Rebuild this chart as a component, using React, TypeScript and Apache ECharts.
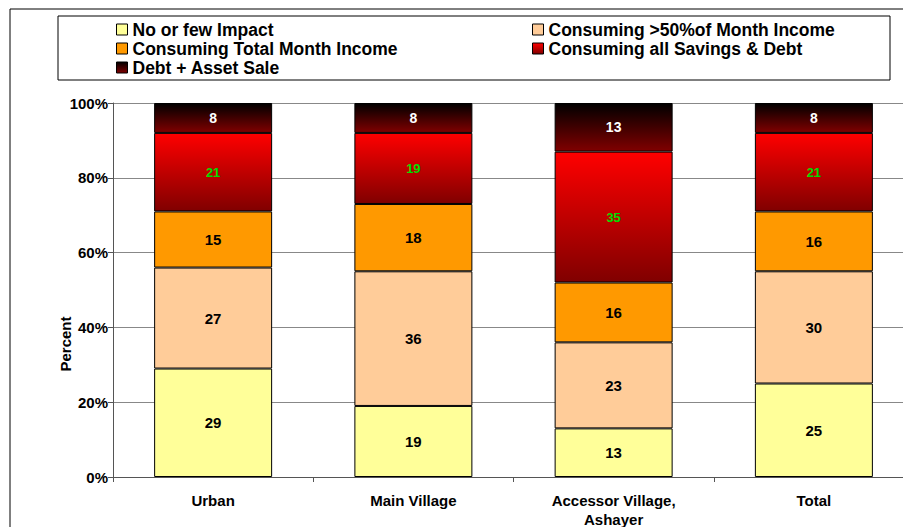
import React, { useEffect, useRef } from "react";
import * as echarts from "echarts";

const categories = ["Urban", "Main Village", "Accessor Village,\nAshayer", "Total"];
const seriesNames = [
  "No or few Impact",
  "Consuming >50%of Month Income",
  "Consuming Total Month Income",
  "Consuming all Savings & Debt",
  "Debt + Asset Sale",
];
const noImpact = [29, 19, 13, 25];
const over50 = [27, 36, 23, 30];
const totalIncome = [15, 18, 16, 16];
const allSavings = [21, 19, 35, 21];
const debtAsset = [8, 8, 13, 8];
const yTicks = [0, 20, 40, 60, 80, 100];
const yAxisTitle = "Percent";

const FONT = "Arial, 'Liberation Sans', sans-serif";

export default function App() {
  const ref = useRef<HTMLDivElement>(null);
  useEffect(() => {
    if (!ref.current) return;
    const chart = echarts.init(ref.current, null, { renderer: "svg" });
    const grad = (top: string, bottom: string) =>
      new echarts.graphic.LinearGradient(0, 0, 0, 1, [
        { offset: 0, color: top },
        { offset: 1, color: bottom },
      ]);
    const colors: any[] = [
      "#FFFF99",
      "#FFCC99",
      "#FF9900",
      grad("#FF0000", "#800000"),
      grad("#000000", "#800000"),
    ];
    const dataSets = [noImpact, over50, totalIncome, allSavings, debtAsset];
    const labelColors = ["#000", "#000", "#000", "#00DD00", "#FFFFFF"];
    const labelSizes = [15, 15, 15, 13, 14];
    const series = dataSets.map((d, i) => ({
      name: seriesNames[i],
      type: "bar",
      stack: "all",
      barWidth: 118,
      data: d,
      itemStyle: { color: colors[i], borderColor: "#000", borderWidth: 1 },
      label: {
        show: true,
        position: "inside",
        color: labelColors[i],
        fontWeight: "bold",
        fontSize: labelSizes[i],
        fontFamily: FONT,
      },
    }));
    const legendCommon = {
      orient: "vertical",
      padding: 0,
      itemWidth: 11,
      itemHeight: 11,
      itemGap: 0,
      icon: "rect",
      textStyle: { fontFamily: FONT, fontWeight: "bold", fontSize: 17.5, lineHeight: 19, color: "#000" },
      itemStyle: { borderColor: "#000", borderWidth: 1 },
      selectedMode: false,
    };
    chart.setOption({
      animation: false,
      backgroundColor: "#fff",
      legend: [
        { ...legendCommon, left: 116, top: 20, data: [seriesNames[0], seriesNames[2], seriesNames[4]] },
        { ...legendCommon, left: 532, top: 20, data: [seriesNames[1], seriesNames[3]] },
      ],
      graphic: [
        { type: "rect", shape: { x: 10, y: 9, width: 1000, height: 600 }, style: { fill: "none", stroke: "#000", lineWidth: 1 }, silent: true },
        { type: "rect", shape: { x: 58, y: 16, width: 832, height: 64 }, style: { fill: "none", stroke: "#000", lineWidth: 1 }, silent: true },
        {
          type: "text",
          x: 65,
          y: 344,
          rotation: Math.PI / 2,
          style: { text: yAxisTitle, fill: "#000", font: "bold 15px " + FONT, align: "center", verticalAlign: "middle" },
          silent: true,
        },
      ],
      grid: { left: 113, top: 103, width: 801, height: 374, containLabel: false, outerBoundsMode: "none" },
      xAxis: {
        type: "category",
        data: categories,
        axisLine: { lineStyle: { color: "#555", width: 1 } },
        axisTick: { show: true, alignWithLabel: false, length: 5, lineStyle: { color: "#555" } },
        axisLabel: { color: "#000", fontWeight: "bold", fontSize: 15, fontFamily: FONT, margin: 14, lineHeight: 19, interval: 0 },
      },
      yAxis: {
        type: "value",
        min: yTicks[0],
        max: yTicks[yTicks.length - 1],
        interval: 20,
        axisLine: { show: true, lineStyle: { color: "#555", width: 1 } },
        axisTick: { show: true, length: 5, lineStyle: { color: "#555" } },
        axisLabel: { color: "#000", fontWeight: "bold", fontSize: 15, fontFamily: FONT, margin: 5, formatter: "{value}%" },
        splitLine: { show: true, lineStyle: { color: "#888", width: 1 } },
      },
      series,
    });
    return () => chart.dispose();
  }, []);
  return (
    <div style={{ position: "absolute", left: 0, top: 0, width: 903, height: 527, overflow: "hidden" }}>
      <div ref={ref} style={{ width: 940, height: 527 }} />
    </div>
  );
}
